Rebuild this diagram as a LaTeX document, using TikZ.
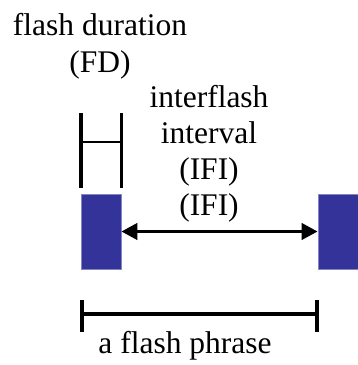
\documentclass[tikz,border=0pt]{standalone}
\usepackage{fontspec}
\setmainfont{Liberation Serif}
\usetikzlibrary{arrows.meta}
\definecolor{flashblue}{RGB}{51,51,153}
\tikzset{
  lbl/.style={anchor=base, inner sep=0pt, font=\fontsize{31.5}{36}\selectfont},
  flashbox/.style={fill=flashblue, draw=flashblue!60, line width=0.6pt, minimum width=40pt, minimum height=75pt, inner sep=0pt},
  tick/.style={line width=3.3pt},
}
\begin{document}
\begin{tikzpicture}[x=1pt, y=-1pt]
\useasboundingbox (0,0) rectangle (357,365);
% flashes
\node[flashbox] (flashA) at (101,231.5){};
\node[flashbox] (flashB) at (338,231.5){};
% flash duration
\coordinate (fdtopL) at (81,113);
\coordinate (fdbotL) at (81,188);
\coordinate (fdtopR) at (121.5,113);
\coordinate (fdbotR) at (121.5,188);
\coordinate (fdmidL) at (81,142);
\coordinate (fdmidR) at (121.5,142);
\draw[tick](fdtopL) -- (fdbotL);
\draw[tick](fdtopR) -- (fdbotR);
\draw[line width=2.7pt](fdmidL) -- (fdmidR);
\node[lbl] (fd1) at (100,35){flash duration};
\node[lbl] (fd2) at (100,72){(FD)};
% interflash interval
\draw[line width=3.8pt, {Triangle[length=16pt,width=16pt]}-{Triangle[length=16pt,width=16pt]}](flashA.east) -- (flashB.west);
\node[lbl] (ifi1) at (209,107){interflash};
\node[lbl] (ifi2) at (209,143){interval};
\node[lbl] (ifi3) at (209,179){(IFI)};
\node[lbl] (ifi4) at (209,215){(IFI)};
% flash phrase
\coordinate (phL) at (82,313.5);
\coordinate (phR) at (317,313.5);
\coordinate (phLt) at (82,300);
\coordinate (phLb) at (82,332);
\coordinate (phRt) at (317,300);
\coordinate (phRb) at (317,332);
\draw[line width=4pt](phL) -- (phR);
\draw[tick](phLt) -- (phLb);
\draw[tick](phRt) -- (phRb);
\node[lbl] (phrase) at (185,353){a flash phrase};
\end{tikzpicture}
\end{document}
